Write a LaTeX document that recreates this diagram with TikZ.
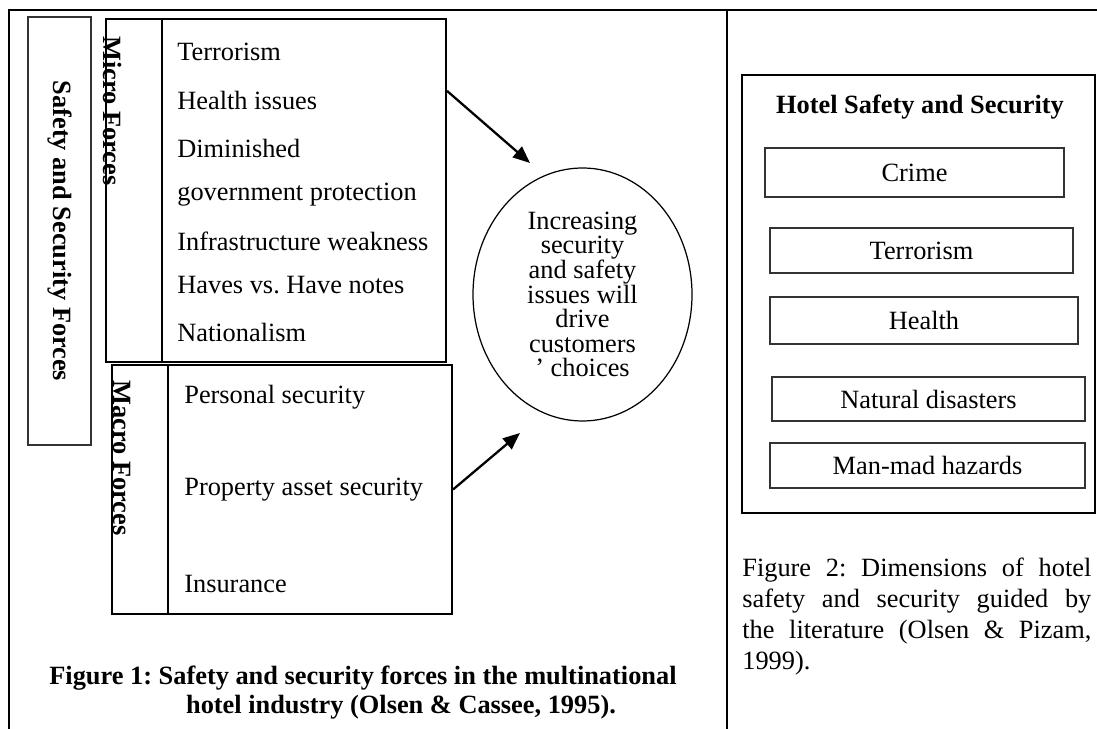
\documentclass[tikz,border=0pt]{standalone}
\usepackage{fontspec}
\setmainfont{Liberation Serif}
\usetikzlibrary{shapes.geometric,arrows.meta}
\frenchspacing
\tikzset{
  frame/.style={line width=1.3pt},
  forcebox/.style={draw, line width=1.2pt},
  item/.style={anchor=west, inner sep=0pt, font=\fontsize{15}{17}\selectfont},
  sidelabel/.style={rotate=-90, anchor=west, inner sep=0pt, font=\fontsize{15}{17}\selectfont\bfseries},
  dimbox/.style={draw=black!80, line width=1pt, font=\fontsize{15}{17}\selectfont},
  flow/.style={line width=1.3pt, -{Triangle[length=3.4mm,width=2.8mm]}},
}

\begin{document}
\begin{tikzpicture}[x=0.2mm, y=-0.2mm]
    \useasboundingbox (0,0) rectangle (1097,729); % page size
    \draw[frame] (1097,10) -- (9,10) -- (9,729); % table border
    \draw[frame] (727,10) -- (727,729); % column divider
    % left figure
    \node (safety) [draw=black!80, line width=1pt, rotate=-90, minimum width=85.6mm, minimum height=12.6mm,
        font=\fontsize{15}{17}\selectfont\bfseries] at (59.5,231) {Safety and Security Forces}; % outer label box
    \node (micro) [forcebox, minimum width=68mm, minimum height=68.6mm] at (276,190.5) {}; % micro box
    \draw[line width=1.2pt] ([xshift=11.4mm]micro.north west) -- ([xshift=11.4mm]micro.south west); % micro divider
    \node (micro lbl) [sidelabel] at (113,36) {Micro Forces}; % micro label
    \node (macro) [forcebox, minimum width=68mm, minimum height=49.8mm] at (282,489.5) {}; % macro box
    \draw[line width=1.2pt] ([xshift=11.4mm]macro.north west) -- ([xshift=11.4mm]macro.south west); % macro divider
    \node (macro lbl) [sidelabel] at (122,380) {Macro Forces}; % macro label
    \node (m1) [item] at (177,52) {Terrorism};
    \node (m2) [item] at (177,100) {Health issues};
    \node (m3) [item] at (177,148) {Diminished};
    \node (m4) [item] at (177,195) {government protection};
    \node (m5) [item] at (177,241) {Infrastructure weakness};
    \node (m6) [item] at (177,285) {Haves vs. Have notes};
    \node (m7) [item] at (177,332) {Nationalism};
    \node (p1) [item] at (184,397) {Personal security};
    \node (p2) [item] at (184,490) {Property asset security};
    \node (p3) [item] at (184,584) {Insurance};
    \node (ell) [draw, ellipse, line width=0.7pt, minimum width=43.8mm, minimum height=50.6mm, inner sep=0pt,
        align=center, font=\fontsize{15}{14}\selectfont] at (582.5,294.5)
        {Increasing\\security\\and safety\\issues will\\drive\\customers\\’ choices}; % outcome
    \coordinate (tail1) at ([yshift=-14.6mm]micro.north east);
    \coordinate (tip1) at (530,163);
    \coordinate (tip2) at (520,433);
    \draw[flow] (tail1) -- (tip1); % micro to outcome
    \draw[flow] (macro.east) -- (tip2); % macro to outcome
    \node (cap1a) [font=\fontsize{15}{17}\selectfont\bfseries] at (363,678)
        {Figure 1: Safety and security forces in the multinational}; % caption line 1
    \node (cap1b) [font=\fontsize{15}{17}\selectfont\bfseries] at (401,707)
        {hotel industry (Olsen \& Cassee, 1995).}; % caption line 2
    % right figure
    \node (hotel) [forcebox, minimum width=70.6mm, minimum height=87.6mm] at (918.5,294) {}; % outer box
    \node (hotel ttl) [font=\fontsize{15}{17}\selectfont\bfseries] at (920,107) {Hotel Safety and Security};
    \node (d1) [dimbox, minimum width=59.8mm, minimum height=9.8mm] at (914.5,172.5) {Crime};
    \node (d2) [dimbox, minimum width=60.6mm, minimum height=9mm] at (921.5,250.5) {Terrorism};
    \node (d3) [dimbox, minimum width=61.6mm, minimum height=9.4mm] at (924,320.5) {Health};
    \node (d4) [dimbox, minimum width=62.6mm, minimum height=8.8mm] at (928.5,399) {Natural disasters};
    \node (d5) [dimbox, minimum width=63mm, minimum height=9mm] at (927.5,465.5) {Man-mad hazards};
    \node (cap2) [anchor=north west, inner sep=0pt, text width=69.8mm, align=justify,
        font=\fontsize{15}{17.6}\selectfont] at (742,558)
        {Figure 2: Dimensions of hotel\linebreak safety and security guided by\linebreak
         the literature (Olsen \& Pizam,\linebreak 1999).}; % caption
\end{tikzpicture}
\end{document}
